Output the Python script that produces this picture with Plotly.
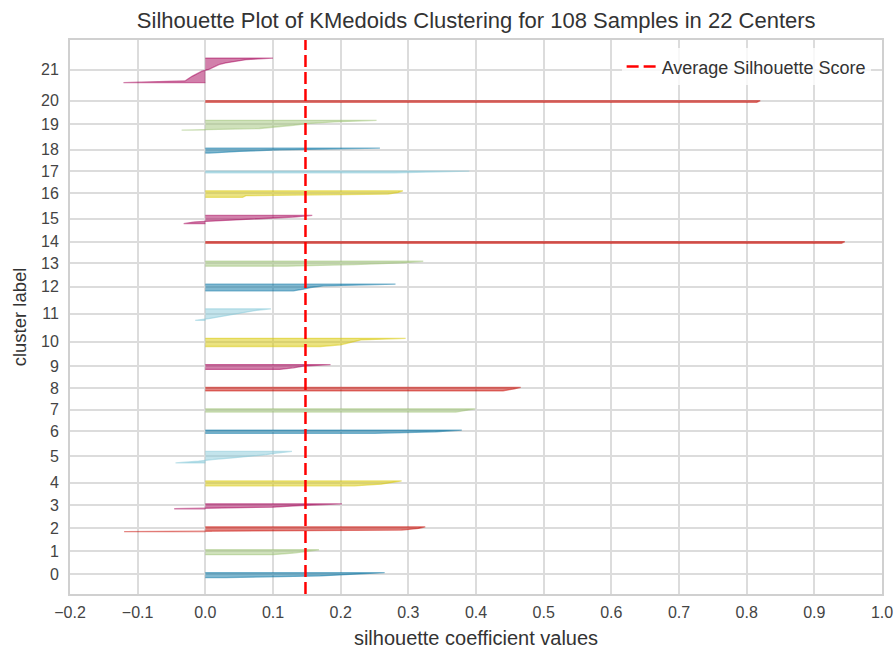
import plotly.graph_objects as go

# Sorted silhouette coefficients per cluster (cluster 0 .. 21)
cluster_values = [
    [0.03, 0.17, 0.23, 0.265],
    [0.10, 0.13, 0.15, 0.168],
    [-0.12, 0.29, 0.315, 0.325],
    [-0.046, 0.10, 0.14, 0.202],
    [0.22, 0.26, 0.275, 0.29],
    [-0.044, -0.01, 0.01, 0.04, 0.07, 0.09, 0.105, 0.128],
    [0.25, 0.34, 0.379],
    [0.37, 0.385, 0.399],
    [0.44, 0.455, 0.466],
    [0.11, 0.13, 0.145, 0.185],
    [0.17, 0.20, 0.21, 0.22, 0.23, 0.296],
    [-0.015, 0.005, 0.02, 0.035, 0.05, 0.065, 0.075, 0.097],
    [0.13, 0.145, 0.155, 0.175, 0.281],
    [0.12, 0.22, 0.29, 0.322],
    [0.94, 0.945],
    [-0.032, -0.015, 0.04, 0.09, 0.13, 0.158],
    [0.055, 0.06, 0.27, 0.285, 0.292],
    [0.28, 0.39],
    [0.005, 0.05, 0.11, 0.258],
    [-0.035, 0.08, 0.11, 0.13, 0.15, 0.19, 0.253],
    [0.815, 0.82],
    [-0.121, -0.03, -0.027, -0.023, -0.019, -0.015, -0.01, -0.005,
     0.005, 0.01, 0.015, 0.02, 0.03, 0.045, 0.06, 0.1],
]
cluster_labels = [str(i) for i in range(len(cluster_values))]
avg_score = 0.148
x_ticks = [round(-0.2 + 0.1 * i, 1) for i in range(13)]

palette = ["#0272a2", "#9fc377", "#ca0b03", "#a50258", "#d7c703", "#88cada"]


def rgba(hex_color, alpha):
    h = hex_color.lstrip("#")
    r, g, b = int(h[0:2], 16), int(h[2:4], 16), int(h[4:6], 16)
    return f"rgba({r},{g},{b},{alpha})"


n_samples = sum(len(v) for v in cluster_values)
n_clusters = len(cluster_values)

fig = go.Figure()

y_lower = 10
tick_pos = []
for idx, values in enumerate(cluster_values):
    size = len(values)
    y_upper = y_lower + size
    ys = list(range(y_lower, y_upper))
    color = palette[idx % len(palette)]
    xs = [0] + list(values) + [0]
    yy = [ys[0]] + ys + [ys[-1]]
    fig.add_trace(go.Scatter(
        x=xs, y=yy, mode="lines", fill="toself",
        fillcolor=rgba(color, 0.5),
        line=dict(color=rgba(color, 0.5), width=1.3),
        showlegend=False, hoverinfo="skip",
    ))
    tick_pos.append(y_lower + 0.5 * size)
    y_lower = y_upper + 10

y_max = n_samples + (n_clusters + 1) * 10

fig.add_trace(go.Scatter(
    x=[avg_score, avg_score], y=[0, y_max], mode="lines",
    line=dict(color="red", width=2.5, dash="12px,5px"),
    name="Average Silhouette Score",
))

font_family = "Liberation Sans, Arial, sans-serif"
fig.update_layout(
    width=896, height=649,
    margin=dict(l=70, r=14, t=40, b=55, autoexpand=False),
    paper_bgcolor="white", plot_bgcolor="white",
    title=dict(
        text="Silhouette Plot of KMedoids Clustering for 108 Samples in 22 Centers",
        x=0.5315, xanchor="center", y=0.969, yanchor="middle",
        font=dict(family=font_family, size=22, color="#333333"),
    ),
    font=dict(family=font_family, size=16, color="#444444"),
    legend=dict(
        x=0.986, xanchor="right", y=0.985, yanchor="top",
        bgcolor="rgba(255,255,255,0.8)", borderwidth=0,
        font=dict(size=18, color="#333333"),
    ),
)
fig.update_xaxes(
    range=[-0.2, 1.0], tickvals=x_ticks, tickformat=".1f",
    automargin=False,
    showgrid=True, gridcolor="#dcdcdc", gridwidth=1.5,
    zeroline=False, showline=True, linecolor="#d0d0d0", linewidth=2, mirror=True,
    ticks="", ticklabelstandoff=3, tickfont=dict(size=16, color="#444444"),
    title=dict(text="silhouette coefficient values", standoff=20,
               font=dict(size=20, color="#333333")),
)
fig.update_yaxes(
    range=[0, y_max], tickvals=tick_pos, ticktext=cluster_labels,
    automargin=False,
    showgrid=True, gridcolor="#dcdcdc", gridwidth=1.5,
    zeroline=False, showline=True, linecolor="#d0d0d0", linewidth=2, mirror=True,
    ticks="", ticklabelstandoff=6, tickfont=dict(size=16, color="#444444"),
    title=dict(text="cluster label", standoff=10,
               font=dict(size=18.5, color="#333333")),
)

fig.write_html("out.html")
